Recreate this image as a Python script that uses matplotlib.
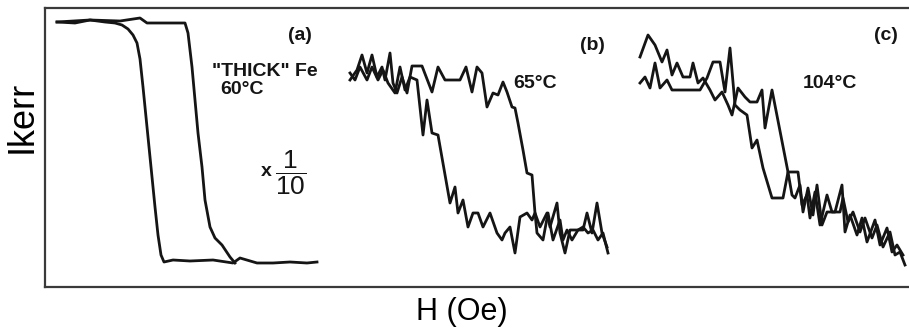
import matplotlib.pyplot as plt
import numpy as np

# Panel (a): "thick" Fe at 60 C, two branches of the loop
H_a_left = [57, 75, 90, 105, 115, 122, 128, 133, 137, 140, 143, 146, 149, 152, 155,
            158, 161, 164, 173, 190, 213, 233, 240, 257, 273, 290, 307, 317]
I_a_left = [265, 264, 267, 265, 264, 262, 258, 252, 244, 228, 200, 170, 140, 110, 80,
            52, 32, 25, 27, 26, 27, 24, 29, 24, 24, 25, 24, 25]
H_a_right = [57, 90, 120, 140, 147, 173, 185, 188, 192, 195, 198, 202, 205, 210, 215,
             222, 230, 235]
I_a_right = [265, 267, 266, 269, 264, 264, 264, 254, 220, 187, 154, 120, 87, 60, 49,
             42, 30, 24]

# Panel (b): 65 C
H_b_early = [350, 355, 360, 367, 372, 378, 383, 388, 395, 400, 405, 410, 417, 423, 427,
             432, 438, 450, 455, 458, 463, 468, 473, 478, 483, 490, 497, 502, 505, 510,
             515, 520, 527, 532, 535, 540, 547, 550, 557, 560, 565, 570, 577, 583, 587,
             592, 597, 602, 607]
I_b_early = [214, 207, 220, 207, 220, 207, 217, 204, 194, 220, 197, 210, 207, 152, 187,
             154, 152, 84, 100, 74, 87, 60, 74, 74, 60, 74, 54, 47, 54, 60,
             34, 70, 74, 67, 74, 60, 74, 60, 84, 54, 34, 57, 57, 57, 74,
             54, 84, 54, 40]
H_b_late = [350, 357, 362, 367, 372, 377, 382, 385, 390, 393, 397, 402, 407, 412, 422,
            432, 438, 445, 460, 466, 472, 477, 482, 487, 493, 498, 503, 507, 512, 515,
            518, 523, 527, 532, 535, 537, 543, 548, 553, 560, 563, 567, 572, 578, 583,
            588, 593, 598, 603, 608]
I_b_late = [207, 217, 232, 214, 232, 210, 220, 207, 234, 204, 194, 210, 194, 221, 221,
            195, 220, 207, 207, 220, 195, 220, 214, 180, 194, 192, 205, 195, 180, 179,
            164, 137, 114, 112, 74, 54, 47, 74, 47, 67, 47, 57, 47, 57, 60,
            54, 57, 47, 54, 34]

# Panel (c): 104 C
H_c_a = [640, 648, 655, 662, 667, 672, 677, 683, 690, 693, 698, 703, 710, 715, 722,
         728, 732, 738, 745, 750, 757, 762, 765, 772, 788, 792, 795, 800, 803, 808,
         813, 817, 822, 827, 835, 842, 845, 850, 857, 862, 867, 875, 880, 887, 892,
         897, 903]
I_c_a = [230, 252, 242, 225, 237, 212, 224, 210, 210, 224, 204, 209, 197, 187, 195,
         182, 172, 199, 190, 185, 185, 197, 159, 197, 115, 92, 89, 102, 75, 99,
         72, 102, 62, 75, 75, 102, 55, 72, 52, 69, 45, 67, 42, 59, 35,
         42, 32]
H_c_b = [640, 645, 650, 655, 660, 667, 672, 700, 707, 713, 720, 725, 730, 735, 740,
         747, 752, 757, 763, 772, 783, 788, 798, 802, 807, 810, 815, 820, 827, 832,
         840, 843, 848, 853, 860, 865, 872, 877, 883, 890, 895, 900, 905]
I_c_b = [204, 210, 199, 224, 199, 207, 197, 197, 209, 225, 225, 195, 239, 182, 177,
         172, 139, 147, 119, 89, 89, 115, 115, 82, 92, 69, 95, 62, 92, 75,
         75, 89, 65, 75, 55, 69, 49, 62, 40, 55, 32, 35, 22]

plt.rcParams['font.family'] = ['Liberation Sans', 'DejaVu Sans']
plt.rcParams['mathtext.fontset'] = 'custom'
plt.rcParams['mathtext.rm'] = 'Liberation Sans'

fig = plt.figure(figsize=(9.09, 3.31), dpi=100)
ax = fig.add_axes([45 / 909, 44 / 331, 864 / 909, 279 / 331])

lw = 2.0
ink = '#151515'
ax.plot(H_a_left, I_a_left, color=ink, lw=lw)
ax.plot(H_a_right, I_a_right, color=ink, lw=lw)
ax.plot(H_b_early, I_b_early, color=ink, lw=lw)
ax.plot(H_b_late, I_b_late, color=ink, lw=lw)
ax.plot(H_c_a, I_c_a, color=ink, lw=lw)
ax.plot(H_c_b, I_c_b, color=ink, lw=lw)

ax.set_xlim(45, 909)
ax.set_ylim(0, 279)
ax.set_xticks([])
ax.set_yticks([])
for s in ['left', 'top', 'bottom']:
    ax.spines[s].set_linewidth(1.6)
    ax.spines[s].set_color('#3a3a3a')
ax.spines['right'].set_visible(False)

note = dict(fontsize=14, fontweight='bold', color=ink)
ax.text(300, 251, '(a)', ha='center', va='center', **note)
ax.text(212, 216, '"THICK" Fe', ha='left', va='center', **note)
ax.text(220, 197, '60°C', ha='left', va='center', **note)
ax.text(261, 115, 'x', ha='left', va='center', **note)
ax.text(291, 114, r'$\dfrac{1}{10}$', ha='center', va='center', fontsize=19, color=ink)

ax.text(592, 242, '(b)', ha='center', va='center', **note)
ax.text(513, 204, '65°C', ha='left', va='center', **note)

ax.text(886, 251, '(c)', ha='center', va='center', **note)
ax.text(803, 203, '104°C', ha='left', va='center', **note)

ax.set_xlabel('H (Oe)', fontsize=22)
ax.xaxis.set_label_coords(0.483, -0.035)
ax.set_ylabel('Ikerr', fontsize=26)
ax.yaxis.set_label_coords(-0.006, 0.61)

fig.savefig('out.png', dpi=100)
